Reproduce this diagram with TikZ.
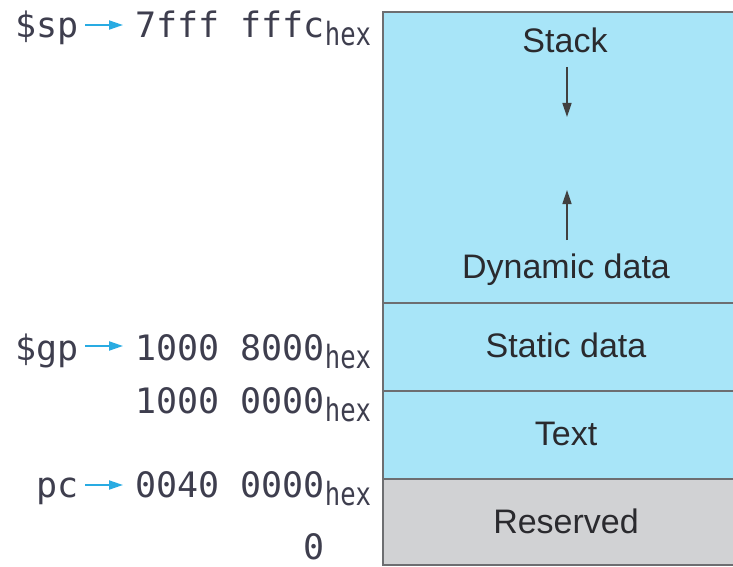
\documentclass[tikz,border=0pt]{standalone}
\usepackage{fontspec}
\setmainfont{Liberation Sans}
\newfontfamily\monof{DejaVu Sans Mono}
\usetikzlibrary{arrows.meta}
\definecolor{memblue}{HTML}{A8E5F8}
\definecolor{memgray}{HTML}{D1D2D4}
\definecolor{edgegray}{HTML}{6D6E71}
\definecolor{ptrcyan}{HTML}{29ABE2}
\definecolor{txtdark}{HTML}{3E3E4E}
\definecolor{segtxt}{HTML}{2A2A2E}
\newcommand{\hexsub}{\raisebox{-8pt}{\scalebox{0.8}[1]{\fontsize{32}{32}\selectfont hex}}}
\begin{document}
\begin{tikzpicture}[x=1pt,y=-1pt,
  lbl/.style={inner sep=0pt, font=\monof\fontsize{35}{40}\selectfont, text=txtdark, anchor=base east},
  addr/.style={inner sep=0pt, font=\monof\fontsize{35}{40}\selectfont, text=txtdark, anchor=base west},
  seg/.style={inner sep=0pt, font=\fontsize{34}{40}\selectfont, text=segtxt, anchor=base},
  ptr/.style={ptrcyan, line width=2pt, -{Triangle[length=14pt,width=9pt]}},
  growarrow/.style={black!75, line width=1.6pt, -{Triangle[length=14pt,width=9pt]}},
  memedge/.style={edgegray, line width=2pt}]
\useasboundingbox (0,0) rectangle (733,567);
\clip (0,0) rectangle (733,567);
% memory regions
\fill[memblue] (383,12) rectangle (760,479);
\fill[memgray] (383,479) rectangle (760,565);
\draw[memedge] (760,12) -- (383,12) -- (383,565) -- (760,565);
\draw[memedge] (383,303) -- (760,303) (383,391) -- (760,391) (383,479) -- (760,479);
% segment labels
\node[seg] (stack) at (565,53) {Stack};
\node[seg] (dyn) at (566,278) {Dynamic data};
\node[seg] (static) at (566,357) {Static data};
\node[seg] (text) at (566,445) {Text};
\node[seg] (res) at (566,533) {Reserved};
% growth arrows
\coordinate (sdtop) at (567,67);
\coordinate (sdtip) at (567,117);
\coordinate (dubase) at (567,240);
\coordinate (dutip) at (567,190);
\draw[growarrow] (sdtop) -- (sdtip);
\draw[growarrow] (dubase) -- (dutip);
% addresses
\node[addr] (spv) at (135,38) {7fff fffc\hexsub};
\node[addr] (gpv) at (135,360) {1000 8000\hexsub};
\node[addr] (tv) at (135,413) {1000 0000\hexsub};
\node[addr] (pcv) at (135,497) {0040 0000\hexsub};
\node[lbl, anchor=base] (zero) at (314,559) {0};
% pointer labels
\node[lbl] (sp) at (79,38) {\$sp};
\node[lbl] (gp) at (79,360) {\$gp};
\node[lbl] (pc) at (79,497) {pc};
\draw[ptr] ([xshift=6pt,yshift=13pt]sp.base east) -- ([xshift=-12pt,yshift=13pt]spv.base west);
\draw[ptr] ([xshift=6pt,yshift=14pt]gp.base east) -- ([xshift=-12pt,yshift=14pt]gpv.base west);
\draw[ptr] ([xshift=6pt,yshift=12pt]pc.base east) -- ([xshift=-12pt,yshift=12pt]pcv.base west);
\end{tikzpicture}
\end{document}
